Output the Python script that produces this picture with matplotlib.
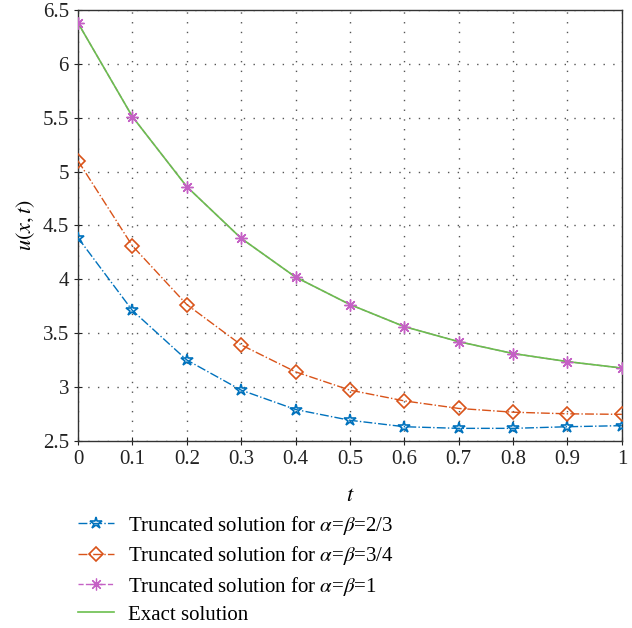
import numpy as np
import matplotlib
matplotlib.use("Agg")
import matplotlib.pyplot as plt

plt.rcParams['font.family'] = ['Liberation Serif', 'DejaVu Serif']
plt.rcParams['mathtext.fontset'] = 'stix'

# data
t = [0, 0.1, 0.2, 0.3, 0.4, 0.5, 0.6, 0.7, 0.8, 0.9, 1.0]
u_23 = [4.385, 3.71, 3.25, 2.97, 2.79, 2.69, 2.63, 2.615, 2.615, 2.63, 2.64]
u_34 = [5.10, 4.31, 3.765, 3.39, 3.14, 2.97, 2.87, 2.80, 2.765, 2.75, 2.745]
u_1 = [6.38, 5.51, 4.86, 4.38, 4.02, 3.765, 3.56, 3.42, 3.31, 3.235, 3.175]
u_exact = [6.38, 5.51, 4.86, 4.38, 4.02, 3.765, 3.56, 3.42, 3.31, 3.235, 3.175]

labels = [r'Truncated solution for $\alpha$=$\beta$=2/3',
          r'Truncated solution for $\alpha$=$\beta$=3/4',
          r'Truncated solution for $\alpha$=$\beta$=1',
          'Exact solution']

blue = '#0072BD'
orange = '#D95319'
pink = '#C561C5'
green = '#6BBF4E'

fig = plt.figure(figsize=(6.32, 6.28), dpi=100)
ax = fig.add_axes([0.1234, 0.2982, 0.8606, 0.6858])

ax.plot(t, u_23, '-.', color=blue, lw=1, marker='*', ms=9, mfc='none', mec=blue,
        mew=1.2, label=labels[0], zorder=3)
ax.plot(t, u_34, '-.', color=orange, lw=1, marker='D', ms=7.5, mfc='none', mec=orange,
        mew=1.2, label=labels[1], zorder=3)
ax.plot(t, u_1, '--', color=pink, lw=1, marker=(8, 2, 0), ms=8.5, mec=pink,
        mew=0.9, label=labels[2], zorder=2)
ax.plot(t, u_exact, '-', color=green, lw=1.2, label=labels[3], zorder=3)
ax.plot(t, u_1, 'none', marker=(8, 2, 0), ms=8.5, mec=pink, mew=0.9, zorder=4)

ax.set_xlim(0, 1)
ax.set_ylim(2.5, 6.5)
ax.set_xticks(np.arange(0, 1.01, 0.1))
ax.set_xticklabels(['0', '0.1', '0.2', '0.3', '0.4', '0.5', '0.6', '0.7', '0.8', '0.9', '1'])
ax.set_yticks(np.arange(2.5, 6.51, 0.5))
ax.set_yticklabels(['2.5', '3', '3.5', '4', '4.5', '5', '5.5', '6', '6.5'])
ax.tick_params(direction='inout', length=6, width=0.8, labelsize=15, colors='#222222')
ax.grid(True, color='#555555', linestyle=(0, (1, 6)), linewidth=1)

for s in ax.spines.values():
    s.set_color('#333333')
    s.set_linewidth(1)

ax.set_xlabel('$t$', fontsize=16, labelpad=13)
ax.set_ylabel('$u(x,t)$', fontsize=16, labelpad=4)

ax.legend(loc='upper left', bbox_to_anchor=(-0.015, -0.15), frameon=False,
          fontsize=15, numpoints=1, handlelength=1.7, labelspacing=0.36,
          handletextpad=0.7, borderaxespad=0)

fig.savefig('out.png', dpi=100)
